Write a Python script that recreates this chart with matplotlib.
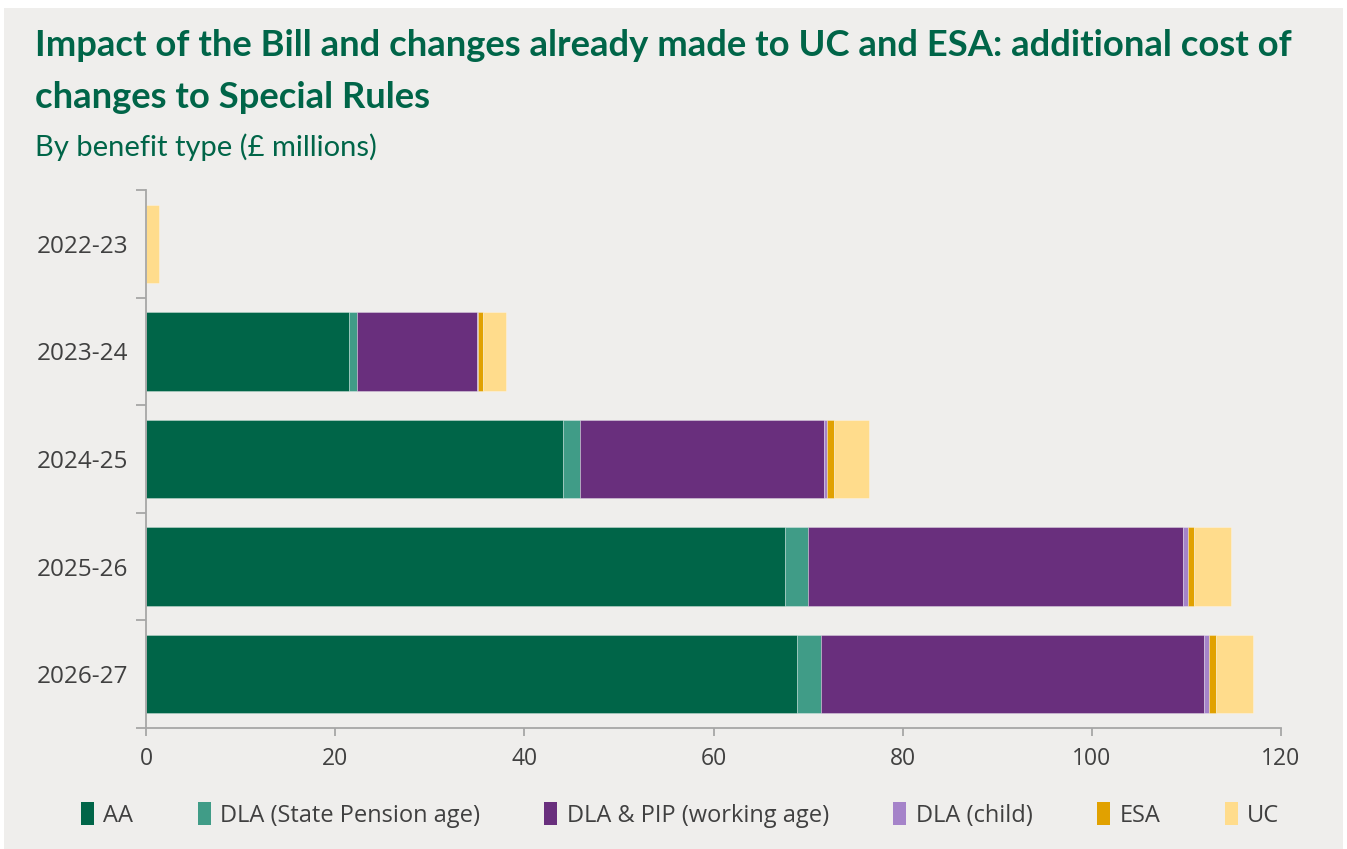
import matplotlib.pyplot as plt
from matplotlib.patches import Rectangle, Patch
import numpy as np

# data (£ millions)
years = ['2022-23', '2023-24', '2024-25', '2025-26', '2026-27']
series = ['AA', 'DLA (State Pension age)', 'DLA & PIP (working age)',
          'DLA (child)', 'ESA', 'UC']
aa = [0.0, 21.5, 44.1, 67.6, 68.8]
dla_spa = [0.0, 0.8, 1.75, 2.4, 2.6]
dla_pip = [0.0, 12.7, 25.85, 39.6, 40.5]
dla_child = [0.0, 0.15, 0.35, 0.55, 0.5]
esa = [0.0, 0.5, 0.65, 0.7, 0.7]
uc = [1.4, 2.4, 3.7, 3.9, 3.9]
colours = ['#006548', '#409C87', '#692F7D', '#A583C9', '#E1A100', '#FFDC8C']

W, H = 1347, 849
bg = '#EFEEEC'
green = '#006548'
grey_txt = '#404040'
spine_col = '#A6A6A6'

fig = plt.figure(figsize=(W / 100, H / 100), dpi=100, facecolor='white')
# grey panel with thin white margin at top/left/right
fig.patches.append(Rectangle((4 / W, 0), 1339 / W, (H - 8) / H,
                             transform=fig.transFigure, facecolor=bg,
                             edgecolor='none', zorder=-10))

ax = fig.add_axes([146 / W, (H - 728) / H, (1281 - 146) / W, (728 - 190) / H])
ax.set_facecolor(bg)

y = np.arange(len(years))
left = np.zeros(len(years))
for vals, name, col in zip([aa, dla_spa, dla_pip, dla_child, esa, uc], series, colours):
    ax.barh(y, vals, left=left, height=0.73, color=col, label=name,
            edgecolor=(1, 1, 1, 0.35), linewidth=0.6)
    left += np.array(vals)

ax.set_xlim(0, 120)
ax.set_ylim(4.5, -0.5)
ax.set_xticks(np.arange(0, 121, 20))
ax.set_yticks(np.arange(-0.5, 5, 1))
ax.set_yticklabels([])
ax.set_yticks(y, minor=True)
ax.set_yticklabels(years, minor=True)

for s in ['top', 'right']:
    ax.spines[s].set_visible(False)
for s in ['left', 'bottom']:
    ax.spines[s].set_color(spine_col)
    ax.spines[s].set_linewidth(1.3)

ax.tick_params(axis='x', which='major', length=6, width=1.3, color=spine_col,
               labelsize=16.5, labelcolor=grey_txt, pad=8)
ax.tick_params(axis='y', which='major', length=7, width=1.3, color=spine_col)
ax.tick_params(axis='y', which='minor', length=0, labelsize=17.5,
               labelcolor=grey_txt, pad=13)
for lab in ax.get_xticklabels() + ax.get_yticklabels(minor=True):
    lab.set_fontfamily('Open Sans')

fig.text(35 / W, 1 - 45 / H,
         'Impact of the Bill and changes already made to UC and ESA: additional cost of',
         fontsize=26.2, fontweight='bold', color=green, family='Lato', va='center')
fig.text(35 / W, 1 - 97 / H, 'changes to Special Rules',
         fontsize=26.2, fontweight='bold', color=green, family='Lato', va='center')
fig.text(35 / W, 1 - 147 / H, 'By benefit type (£ millions)',
         fontsize=21, color=green, family='Lato', va='center')

handles = [Patch(facecolor=c, edgecolor='none') for c in colours]
leg = fig.legend(handles, series, loc='center', bbox_to_anchor=(680 / W, 1 - 815 / H),
                 ncol=6, frameon=False, handlelength=0.55, handleheight=1.1,
                 handletextpad=0.4, columnspacing=2.73,
                 prop={'family': 'Open Sans', 'size': 17})
for t in leg.get_texts():
    t.set_color(grey_txt)

fig.savefig('out.png', dpi=100, facecolor=fig.get_facecolor())
